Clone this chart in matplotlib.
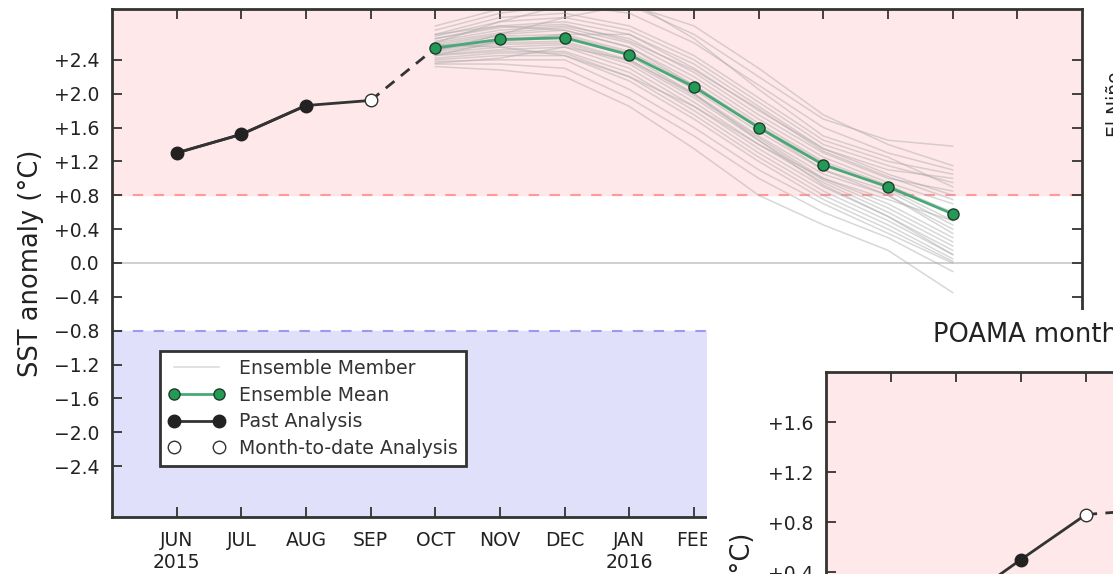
import numpy as np
import matplotlib
matplotlib.use("Agg")
from matplotlib import pyplot as plt
from matplotlib.patches import Rectangle
from matplotlib.ticker import FuncFormatter

# months on the x axis (index 0 = JUN 2015)
month_labels = ["JUN\n2015", "JUL", "AUG", "SEP", "OCT", "NOV", "DEC",
                "JAN\n2016", "FEB", "MAR", "APR", "MAY", "JUN", "JUL"]
y_ticks = [-2.4, -2.0, -1.6, -1.2, -0.8, -0.4, 0.0, 0.4, 0.8, 1.2, 1.6, 2.0, 2.4]

# past analysis (JUN..AUG) and month-to-date (SEP)
past_months = [0, 1, 2]
past_values = [1.30, 1.52, 1.86]
mtd_month = [3]
mtd_value = [1.92]

# forecast months OCT..JUN
fc_months = [4, 5, 6, 7, 8, 9, 10, 11, 12]
ens_mean = [2.54, 2.64, 2.66, 2.46, 2.08, 1.60, 1.16, 0.90, 0.58]
ens_members = [
    [2.80, 3.00, 3.10, 3.05, 2.70, 2.20, 1.70, 1.45, 1.38],
    [2.75, 2.95, 3.05, 2.95, 2.60, 2.10, 1.60, 1.30, 1.10],
    [2.70, 2.90, 2.95, 2.80, 2.45, 1.95, 1.45, 1.20, 1.05],
    [2.68, 2.85, 2.90, 2.75, 2.40, 1.90, 1.40, 1.15, 0.95],
    [2.65, 2.80, 2.85, 2.70, 2.30, 1.80, 1.35, 1.10, 1.00],
    [2.62, 2.75, 2.80, 2.65, 2.25, 1.75, 1.30, 1.00, 0.85],
    [2.60, 2.72, 2.78, 2.60, 2.20, 1.70, 1.25, 0.95, 0.70],
    [2.58, 2.70, 2.75, 2.55, 2.15, 1.65, 1.20, 0.92, 0.60],
    [2.56, 2.68, 2.70, 2.50, 2.10, 1.62, 1.18, 0.88, 0.50],
    [2.55, 2.65, 2.68, 2.48, 2.05, 1.55, 1.10, 0.85, 0.45],
    [2.53, 2.62, 2.66, 2.45, 2.00, 1.50, 1.05, 0.80, 0.40],
    [2.52, 2.60, 2.62, 2.40, 1.98, 1.48, 1.00, 0.70, 0.30],
    [2.50, 2.58, 2.60, 2.38, 1.95, 1.45, 0.98, 0.65, 0.25],
    [2.48, 2.55, 2.58, 2.35, 1.90, 1.40, 0.95, 0.60, 0.20],
    [2.46, 2.52, 2.55, 2.30, 1.85, 1.35, 0.90, 0.55, 0.15],
    [2.45, 2.50, 2.50, 2.25, 1.80, 1.30, 0.85, 0.50, 0.10],
    [2.42, 2.48, 2.48, 2.20, 1.75, 1.25, 0.80, 0.45, 0.05],
    [2.40, 2.45, 2.45, 2.15, 1.70, 1.20, 0.75, 0.40, 0.02],
    [2.38, 2.40, 2.40, 2.05, 1.60, 1.10, 0.70, 0.35, 0.00],
    [2.35, 2.35, 2.30, 1.95, 1.50, 1.00, 0.60, 0.30, -0.10],
    [2.32, 2.28, 2.20, 1.85, 1.35, 0.80, 0.45, 0.15, -0.35],
    [2.50, 2.70, 2.90, 3.05, 2.80, 2.30, 1.75, 1.40, 1.15],
    [2.60, 2.85, 3.05, 3.10, 2.65, 2.05, 1.50, 1.25, 0.90],
    [2.45, 2.62, 2.70, 2.70, 2.35, 1.85, 1.35, 1.05, 0.80],
    [2.70, 2.80, 2.75, 2.55, 2.10, 1.60, 1.10, 0.80, 0.35],
    [2.58, 2.55, 2.45, 2.20, 1.85, 1.40, 1.00, 0.75, 0.50],
    [2.65, 2.78, 2.82, 2.62, 2.28, 1.82, 1.32, 1.02, 0.75],
    [2.36, 2.42, 2.55, 2.40, 2.00, 1.45, 0.92, 0.55, 0.10],
]

# second (overlapping) chart: monthly values
m_past_months = [1, 2]
m_past_values = [0.13, 0.50]
m_mtd_month = [3]
m_mtd_value = [0.86]
m_next = [4]
m_next_value = [0.90]
m_y_ticks = [0.4, 0.8, 1.2, 1.6]

W, H = 1113, 574
PINK = "#ffe8ea"
LAV = "#e0e0fa"


def fmt(v, pos=None):
    if abs(v) < 1e-9:
        return "0.0"
    if v > 0:
        return "+%.1f" % v
    return "\u2212%.1f" % -v


def style_axes(ax):
    for s in ax.spines.values():
        s.set_linewidth(2)
        s.set_color("#333333")
    ax.tick_params(direction="in", top=True, right=True, length=7, width=1.3,
                   colors="#333333", labelcolor="#222222", labelsize=13.5)
    ax.tick_params(axis="y", pad=9)
    ax.tick_params(axis="x", pad=10)
    ax.yaxis.set_major_formatter(FuncFormatter(fmt))


fig = plt.figure(figsize=(W / 100, H / 100), dpi=100)
ax = fig.add_axes([112 / W, 57 / H, 970 / W, 508 / H])

ax.axhspan(0.8, 3.0, color=PINK, zorder=0)
ax.axhspan(-3.0, -0.8, color=LAV, zorder=0)
ax.axhline(0.8, color="#ff9a9a", ls=(0, (5, 5)), lw=1.5, zorder=1)
ax.axhline(-0.8, color="#9a9aee", ls=(0, (5, 5)), lw=1.5, zorder=1)
ax.axhline(0.0, color="#cccccc", lw=1.3, zorder=1)

for i, m in enumerate(ens_members):
    ax.plot(fc_months, m, color="#a8a8a8", alpha=0.45, lw=1.1, zorder=2,
            label="Ensemble Member" if i == 0 else None)

ax.plot(mtd_month + fc_months[:1], mtd_value + ens_mean[:1], color="#333333",
        ls=(0, (4, 3)), lw=2, zorder=3)
ax.plot(fc_months, ens_mean, color="#4aa878", lw=2, marker="o", ms=8,
        mfc="#239b56", mec="#1d3d2a", mew=1, zorder=4, label="Ensemble Mean")
ax.plot(past_months + mtd_month, past_values + mtd_value, color="#333333",
        lw=2, zorder=3)
ax.plot(past_months, past_values, color="#333333", lw=2, marker="o", ms=9,
        mfc="#222222", mec="#222222", zorder=4, label="Past Analysis")
ax.plot(mtd_month, mtd_value, ls="none", marker="o", ms=9, mfc="white",
        mec="#333333", mew=1, zorder=5, label="Month-to-date Analysis")

ax.set_xlim(-1, 14)
ax.set_ylim(-3, 3)
ax.set_xticks(range(len(month_labels)))
ax.set_xticklabels(month_labels)
ax.set_yticks(y_ticks)
style_axes(ax)
ax.set_ylabel("SST anomaly (\u00b0C)", fontsize=18.5, color="#222222", labelpad=7)

leg = ax.legend(loc="lower left", bbox_to_anchor=(0.049, 0.1), borderaxespad=0,
                fontsize=13.6, numpoints=2, fancybox=False, framealpha=1,
                edgecolor="#333333", handlelength=3.0, handletextpad=0.75,
                labelspacing=0.4, borderpad=0.45)
leg.get_frame().set_linewidth(2)
for t in leg.get_texts():
    t.set_color("#333333")

fig.text(1106 / W, (H - 104) / H, "El Ni\u00f1o", rotation=90, ha="left",
         va="center", fontsize=13.5, color="#222222")

# overlapping second image
fig.add_artist(Rectangle((707 / W, 0), 1 - 707 / W, (H - 310) / H,
                         transform=fig.transFigure, facecolor="white",
                         edgecolor="none", zorder=5))

ax2 = fig.add_axes([826 / W, (H - 372 - 400) / H, 975 / W, 400 / H])
ax2.set_zorder(6)
ax2.axhspan(-1.2, 2.0, color=PINK, zorder=0)
ax2.plot(m_mtd_month + m_next, m_mtd_value + m_next_value, color="#333333",
         ls=(0, (4, 3)), lw=2, zorder=3)
ax2.plot(m_past_months + m_mtd_month, m_past_values + m_mtd_value,
         color="#333333", lw=2, zorder=3)
ax2.plot(m_past_months, m_past_values, ls="none", marker="o", ms=9,
         mfc="#222222", mec="#222222", zorder=4)
ax2.plot(m_mtd_month, m_mtd_value, ls="none", marker="o", ms=9, mfc="white",
         mec="#333333", mew=1, zorder=5)
ax2.set_xlim(-1, 14)
ax2.set_ylim(-1.2, 2.0)
ax2.set_xticks(range(len(month_labels)))
ax2.set_xticklabels([])
ax2.set_yticks(m_y_ticks)
style_axes(ax2)

fig.text(933 / W, (H - 335) / H, "POAMA monthly mean NINO34", ha="left",
         va="center", fontsize=18.5, color="#222222", zorder=7)
fig.text(743 / W, (H - 533) / H, "SST anomaly (\u00b0C)", rotation=90,
         ha="center", va="top", fontsize=18.5, color="#222222", zorder=7)

fig.savefig("out.png", dpi=100)
